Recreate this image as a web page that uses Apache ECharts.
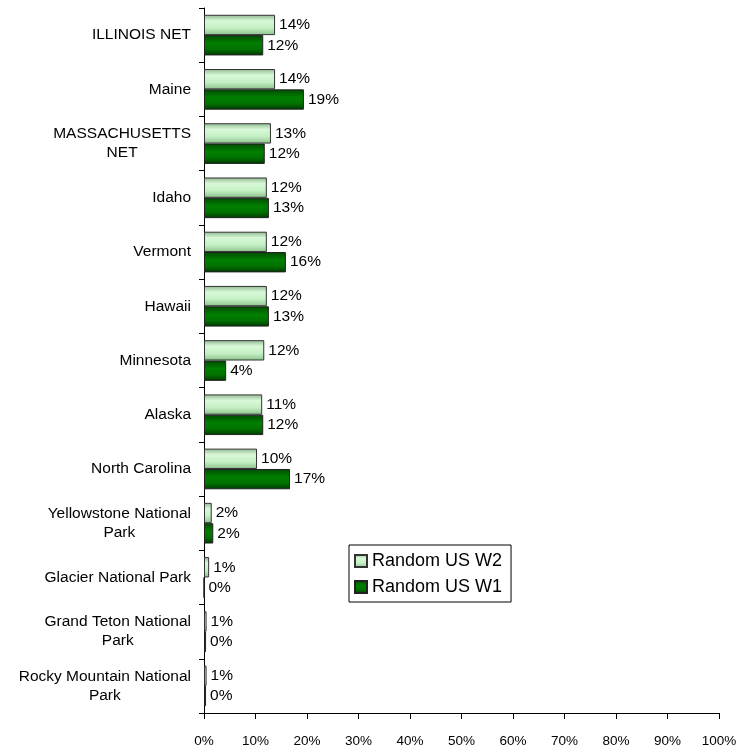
<!DOCTYPE html>
<html><head><meta charset="utf-8">
<script src="https://cdn.jsdelivr.net/npm/echarts@6/dist/echarts.min.js"></script>
<style>html,body{margin:0;padding:0;background:#fff}#c{width:745px;height:749px}</style>
</head><body><div id="c"></div>
<script>
const categories = ["ILLINOIS NET","Maine","MASSACHUSETTS\nNET","Idaho","Vermont","Hawaii","Minnesota","Alaska","North Carolina","Yellowstone National\nPark","Glacier National Park","Grand Teton National\nPark","Rocky Mountain National\nPark"];
const w2 = [13.8,13.8,13.0,12.2,12.2,12.2,11.7,11.3,10.3,1.5,1.0,0.5,0.5];
const w1 = [11.5,19.4,11.8,12.6,15.9,12.6,4.3,11.5,16.7,1.8,0,0.4,0.4];
const xTicks = [0,10,20,30,40,50,60,70,80,90,100];

const font = 'Liberation Sans, Arial, sans-serif';
const gradW2 = new echarts.graphic.LinearGradient(0,0,0,1,[
  {offset:0,color:'#8fb88f'},{offset:0.3,color:'#d8f8d8'},{offset:0.65,color:'#c4f0c4'},{offset:1,color:'#8cc08c'}]);
const gradW1 = new echarts.graphic.LinearGradient(0,0,0,1,[
  {offset:0,color:'#004a00'},{offset:0.4,color:'#008000'},{offset:0.7,color:'#007200'},{offset:1,color:'#003800'}]);
const lbl = {show:true, position:'right', distance:4, color:'#000', fontSize:15.5, fontFamily:font,
  formatter: p => Math.round(p.value) + '%'};
const chart = echarts.init(document.getElementById('c'));
chart.setOption({
  animation:false,
  grid:{left:204, right:26, top:8, bottom:36, containLabel:false},
  legend:{
    orient:'vertical', left:349, top:545, data:['Random US W2','Random US W1'],
    borderColor:'#000', borderWidth:1, padding:[7,9,6,5], itemGap:8,
    itemWidth:12, itemHeight:12, icon:'rect',
    textStyle:{fontSize:18, fontFamily:font, color:'#000', padding:[0,0,0,0]},
    selectedMode:false
  },
  xAxis:{
    type:'value', min:0, max:100, interval:10,
    axisLine:{show:true, lineStyle:{color:'#000'}},
    axisTick:{show:true, length:6, lineStyle:{color:'#000'}},
    axisLabel:{formatter: v => xTicks.includes(v) ? v + '%' : '', fontSize:13.5, fontFamily:font, color:'#000', margin:21},
    splitLine:{show:false}
  },
  yAxis:{
    type:'category', data:categories, inverse:true,
    axisLine:{show:true, lineStyle:{color:'#000'}},
    axisTick:{show:true, length:5, lineStyle:{color:'#000'}},
    axisLabel:{color:'#000', margin:13, align:'right',
      formatter: v => v.split('\n').map(s => '{c|' + s + '}').join('\n'),
      rich:{c:{align:'center', fontSize:15.5, fontFamily:font, color:'#000', lineHeight:19}}}
  },
  series:[
    {name:'Random US W2', type:'bar', data:w2, barGap:'0%', barCategoryGap:'25%',
     itemStyle:{color:gradW2, borderColor:'#333', borderWidth:1}, label:lbl},
    {name:'Random US W1', type:'bar', data:w1, barGap:'0%', barCategoryGap:'25%',
     itemStyle:{color:gradW1, borderColor:'#222', borderWidth:1}, label:lbl}
  ]
});
</script></body></html>
